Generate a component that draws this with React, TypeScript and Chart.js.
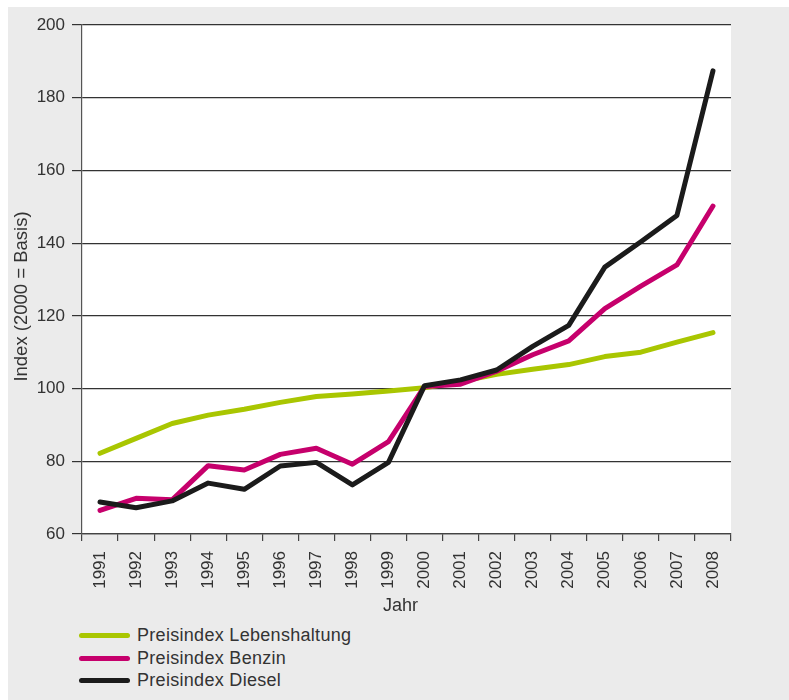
import React, { useEffect, useRef } from "react";
import { Chart, registerables } from "chart.js";

Chart.register(...registerables);

const years = [
  "1991", "1992", "1993", "1994", "1995", "1996", "1997", "1998", "1999",
  "2000", "2001", "2002", "2003", "2004", "2005", "2006", "2007", "2008",
];
const lebenshaltung = [82.2, 86.3, 90.4, 92.7, 94.3, 96.2, 97.8, 98.5, 99.3, 100.2, 101.9, 103.9, 105.3, 106.6, 108.8, 110.0, 112.8, 115.4];
const benzin = [66.5, 69.8, 69.4, 78.8, 77.6, 81.9, 83.6, 79.2, 85.4, 100.6, 101.2, 104.8, 109.3, 113.1, 122.0, 128.2, 134.0, 150.2];
const diesel = [68.8, 67.2, 69.1, 74.0, 72.3, 78.7, 79.7, 73.5, 79.7, 100.8, 102.4, 105.1, 111.6, 117.4, 133.4, 140.4, 147.6, 187.4];

const seriesNames = ["Preisindex Lebenshaltung", "Preisindex Benzin", "Preisindex Diesel"];
const seriesColors = ["#a9c601", "#c6006c", "#1b1b1b"];
const seriesValues = [lebenshaltung, benzin, diesel];

const yMin = 60;
const yMax = 200;
const yStep = 20;
const xTitle = "Jahr";
const yTitle = "Index (2000 = Basis)";

const FONT = "'Liberation Sans', Arial, Helvetica, sans-serif";
const TEXT = "#333333";
const CANVAS_W = 781;
const CANVAS_H = 612;

const decorPlugin = {
  id: "decor",
  beforeDraw(chart: any) {
    const { ctx, chartArea } = chart;
    ctx.save();
    ctx.fillStyle = "#ffffff";
    ctx.fillRect(chartArea.left, chartArea.top, chartArea.right - chartArea.left, chartArea.bottom - chartArea.top);
    ctx.restore();
  },
  afterDraw(chart: any) {
    const { ctx, chartArea } = chart;
    ctx.save();
    ctx.fillStyle = TEXT;
    ctx.textAlign = "center";
    ctx.textBaseline = "middle";
    // y-axis title
    ctx.font = `18.5px ${FONT}`;
    ctx.translate(14, (chartArea.top + chartArea.bottom) / 2 + 17);
    ctx.rotate(-Math.PI / 2);
    ctx.fillText(yTitle, 0, 0);
    ctx.restore();
    ctx.save();
    ctx.fillStyle = TEXT;
    ctx.textAlign = "center";
    ctx.textBaseline = "middle";
    ctx.font = `18px ${FONT}`;
    ctx.fillText(xTitle, (chartArea.left + chartArea.right) / 2 - 6, 599);
    ctx.restore();
  },
};

export default function App() {
  const ref = useRef<HTMLCanvasElement>(null);

  useEffect(() => {
    if (!ref.current) return;
    const chart = new Chart(ref.current, {
      type: "line",
      data: {
        labels: years,
        datasets: seriesValues.map((vals, i) => ({
          label: seriesNames[i],
          data: vals,
          borderColor: seriesColors[i],
          backgroundColor: seriesColors[i],
          borderWidth: 5,
          pointRadius: 0,
          tension: 0,
          borderCapStyle: "round" as const,
          borderJoinStyle: "round" as const,
          fill: false,
          order: 3 - i,
        })),
      },
      plugins: [decorPlugin],
      options: {
        animation: false,
        responsive: false,
        layout: { padding: { top: 18, right: 58, left: 0, bottom: 0 } },
        plugins: { legend: { display: false }, tooltip: { enabled: false } },
        scales: {
          x: {
            offset: true,
            grid: {
              offset: true,
              drawOnChartArea: false,
              tickLength: 7,
              lineWidth: 1.2,
              color: (ctx: any) => (ctx.index === years.length ? "rgba(0,0,0,0)" : "#444444"),
            },
            border: { display: true, color: "#444444", width: 1.2 },
            ticks: {
              autoSkip: false,
              minRotation: 90,
              maxRotation: 90,
              padding: 10,
              color: TEXT,
              font: { family: FONT, size: 17 },
            },
            afterFit: (s: any) => {
              s.height = CANVAS_H - 527;
            },
          },
          y: {
            min: yMin,
            max: yMax,
            ticks: {
              stepSize: yStep,
              padding: 7,
              color: TEXT,
              font: { family: FONT, size: 17 },
            },
            grid: { color: "#333333", lineWidth: 1.2, tickLength: 10 },
            border: { display: true, color: "#555555", width: 1.2 },
            afterFit: (s: any) => {
              s.width = 74;
            },
          },
        },
      },
    });
    return () => chart.destroy();
  }, []);

  const rowCenters = [628, 651, 673];

  return (
    <div
      style={{
        background: "#ebebeb",
        position: "absolute",
        left: 8,
        top: 7,
        width: 781,
        height: 693,
        fontFamily: FONT,
        overflow: "hidden",
      }}
    >
      <canvas
        ref={ref}
        width={CANVAS_W}
        height={CANVAS_H}
        style={{ display: "block", width: CANVAS_W, height: CANVAS_H }}
      />
      {seriesNames.map((name, i) => (
        <div
          key={name}
          style={{
            position: "absolute",
            left: 71,
            top: rowCenters[i] - 11,
            height: 22,
            display: "flex",
            alignItems: "center",
            whiteSpace: "nowrap",
          }}
        >
          <span
            style={{
              display: "inline-block",
              width: 51,
              height: 5,
              borderRadius: 3,
              background: seriesColors[i],
              marginRight: 7,
            }}
          />
          <span style={{ fontSize: 18, color: TEXT, letterSpacing: 0.3 }}>{name}</span>
        </div>
      ))}
    </div>
  );
}
